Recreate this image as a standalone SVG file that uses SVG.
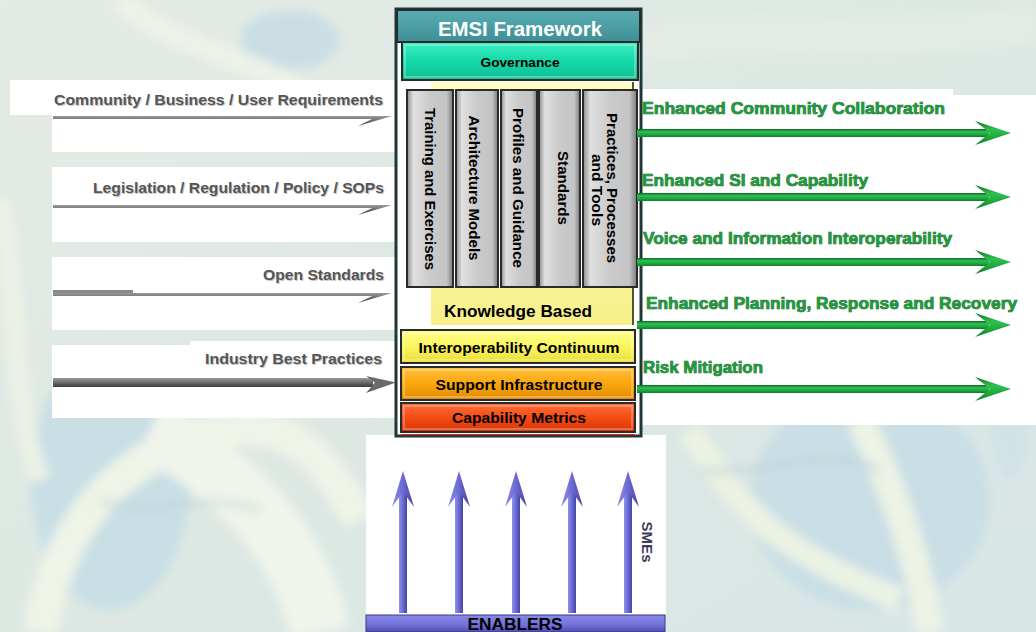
<svg xmlns="http://www.w3.org/2000/svg" width="1036" height="632" viewBox="0 0 1036 632">
  <defs>
    <filter id="soft" x="-20%" y="-20%" width="140%" height="140%">
      <feGaussianBlur stdDeviation="5"/>
    </filter>
    <linearGradient id="bgBase" x1="0" y1="0" x2="1" y2="1">
      <stop offset="0" stop-color="#e4ebe4"/>
      <stop offset="0.5" stop-color="#dde8e3"/>
      <stop offset="1" stop-color="#d8e6e6"/>
    </linearGradient>
    <linearGradient id="gHeader" x1="0" y1="0" x2="0" y2="1">
      <stop offset="0" stop-color="#5aaeb2"/>
      <stop offset="1" stop-color="#3d8f95"/>
    </linearGradient>
    <linearGradient id="gGov" x1="0" y1="0" x2="0" y2="1">
      <stop offset="0" stop-color="#3df0c4"/>
      <stop offset="0.5" stop-color="#14d8a8"/>
      <stop offset="1" stop-color="#0fbf94"/>
    </linearGradient>
    <linearGradient id="gCol" x1="0" y1="0" x2="1" y2="0">
      <stop offset="0" stop-color="#8c8c8c"/>
      <stop offset="0.14" stop-color="#e0e0e0"/>
      <stop offset="0.5" stop-color="#cacaca"/>
      <stop offset="0.86" stop-color="#c4c4c4"/>
      <stop offset="1" stop-color="#7a7a7a"/>
    </linearGradient>
    <linearGradient id="gKnow" x1="0" y1="0" x2="0" y2="1">
      <stop offset="0" stop-color="#fffdc6"/>
      <stop offset="1" stop-color="#f7f08a"/>
    </linearGradient>
    <linearGradient id="gInter" x1="0" y1="0" x2="0" y2="1">
      <stop offset="0" stop-color="#ffff90"/>
      <stop offset="0.5" stop-color="#fbf55c"/>
      <stop offset="1" stop-color="#e8dc3a"/>
    </linearGradient>
    <linearGradient id="gSupport" x1="0" y1="0" x2="0" y2="1">
      <stop offset="0" stop-color="#ffc040"/>
      <stop offset="0.5" stop-color="#fba60c"/>
      <stop offset="1" stop-color="#e08a00"/>
    </linearGradient>
    <linearGradient id="gMetric" x1="0" y1="0" x2="0" y2="1">
      <stop offset="0" stop-color="#ff7040"/>
      <stop offset="0.5" stop-color="#f44c12"/>
      <stop offset="1" stop-color="#d83406"/>
    </linearGradient>
    <linearGradient id="gEnablers" x1="0" y1="0" x2="0" y2="1">
      <stop offset="0" stop-color="#8a8ae8"/>
      <stop offset="0.6" stop-color="#7070d8"/>
      <stop offset="1" stop-color="#4e4eb0"/>
    </linearGradient>
    <linearGradient id="gGreen" x1="0" y1="0" x2="0" y2="1">
      <stop offset="0" stop-color="#0c6a28"/>
      <stop offset="0.35" stop-color="#2fc050"/>
      <stop offset="0.7" stop-color="#1ea63e"/>
      <stop offset="1" stop-color="#0f7a2c"/>
    </linearGradient>
    <linearGradient id="gGray" x1="0" y1="0" x2="0" y2="1">
      <stop offset="0" stop-color="#9a9a9a"/>
      <stop offset="0.5" stop-color="#6a6a6a"/>
      <stop offset="1" stop-color="#3c3c3c"/>
    </linearGradient>
    <linearGradient id="gBlue" x1="0" y1="0" x2="1" y2="0">
      <stop offset="0" stop-color="#9090ec"/>
      <stop offset="0.5" stop-color="#6a6ad0"/>
      <stop offset="1" stop-color="#4444a4"/>
    </linearGradient>
    <style>
      .bx { stroke: #2a2a2a; stroke-width: 2; }
      .hl { fill: none; stroke: #ffffff; stroke-opacity: 0.45; stroke-width: 1.2; }
      .lbl { font-family: "Liberation Sans", Arial, sans-serif; font-weight: bold; fill: #000; }
      .in { font-family: "Liberation Sans", Arial, sans-serif; font-weight: bold; font-size: 15px; fill: #555555; }
      .inShadow { font-family: "Liberation Sans", Arial, sans-serif; font-weight: bold; font-size: 15px; fill: #c8c8c8; }
      .out { font-family: "Liberation Sans", Arial, sans-serif; font-weight: bold; font-size: 17px; fill: #1f9a3c; stroke: #0b5a22; stroke-width: 0.7; paint-order: stroke; }
      .panel { fill: #ffffff; }
    </style>
  </defs>

  <!-- faded vine backdrop -->
  <g id="backdrop">
    <rect width="1036" height="632" fill="url(#bgBase)"/>
    <g filter="url(#soft)" opacity="0.8">
      <ellipse cx="110" cy="480" rx="80" ry="130" fill="#c4dde6"/>
      <ellipse cx="870" cy="500" rx="120" ry="110" fill="#c6dde6"/>
      <ellipse cx="290" cy="40" rx="50" ry="30" fill="#c6dce4"/>
      <ellipse cx="1010" cy="300" rx="30" ry="180" fill="#cfe2e6"/>
      <path d="M40,632 C60,520 120,450 230,430 C300,420 330,470 360,520" fill="none" stroke="#f3f7e8" stroke-width="34"/>
      <path d="M150,430 C230,470 300,540 320,632" fill="none" stroke="#f5f8ec" stroke-width="60"/>
      <path d="M690,430 C740,520 800,560 900,600" fill="none" stroke="#f0f5e4" stroke-width="24"/>
      <path d="M860,420 C900,500 920,570 930,632" fill="none" stroke="#f2f6e6" stroke-width="28"/>
      <path d="M640,45 C760,25 880,45 1036,25" fill="none" stroke="#e6ece6" stroke-width="36"/>
      <path d="M120,0 C160,40 250,60 300,90" fill="none" stroke="#eff4e8" stroke-width="22"/>
      <path d="M0,200 C20,300 10,400 40,480" fill="none" stroke="#eef3e6" stroke-width="20"/>
      <path d="M700,470 C760,480 820,440 880,470" fill="none" stroke="#b5cbcf" stroke-width="8" opacity="0.5"/>
      <path d="M100,500 C150,520 200,490 260,510" fill="none" stroke="#b5cbcf" stroke-width="7" opacity="0.5"/>
    </g>
  </g>

  <!-- white label panels -->
  <g id="panels">
    <path class="panel" d="M10,80 H400 V152 H52 V115 H10 Z"/>
    <rect class="panel" x="52" y="167" width="348" height="75"/>
    <rect class="panel" x="52" y="257" width="348" height="73"/>
    <path class="panel" d="M190,341 H400 V418 H52 V345 H190 Z"/>
    <path class="panel" d="M636,89 H953 V95 H1036 V425 H636 Z"/>
    <rect class="panel" x="366" y="435" width="300" height="180"/>
  </g>

  <!-- framework frame -->
  <g id="frame">
    <rect x="396" y="9" width="245" height="427" fill="#ffffff" stroke="#1d3838" stroke-width="3"/>
  </g>

  <g id="header">
    <rect class="bx" x="397" y="10" width="243" height="32" fill="url(#gHeader)"/>
    <text class="lbl" x="520" y="36" font-size="20" text-anchor="middle" textLength="164" lengthAdjust="spacingAndGlyphs" style="fill:#ffffff">EMSI Framework</text>
  </g>

  <g id="governance">
    <rect class="bx" x="402" y="42" width="236" height="38" fill="url(#gGov)"/>
    <rect class="hl" x="405" y="45" width="230" height="32"/>
    <text class="lbl" x="520" y="67" font-size="13" text-anchor="middle" textLength="79" lengthAdjust="spacingAndGlyphs">Governance</text>
  </g>

  <g id="knowledge-based">
    <rect x="431" y="82" width="202" height="243" fill="url(#gKnow)"/>
    <line x1="633" y1="82" x2="633" y2="325" stroke="#555533" stroke-width="2"/>
    <text class="lbl" x="518" y="317" font-size="16" text-anchor="middle" textLength="148" lengthAdjust="spacingAndGlyphs">Knowledge Based</text>
  </g>

  <!-- column backing -->
  <rect x="400" y="89" width="236" height="199" fill="#ffffff"/>

  <g id="col-training">
    <rect class="bx" x="407" y="90" width="46" height="197" fill="url(#gCol)"/>
    <text class="lbl" transform="translate(430,189) rotate(90)" x="0" y="5" font-size="14" text-anchor="middle" textLength="162" lengthAdjust="spacingAndGlyphs">Training and Exercises</text>
  </g>
  <g id="col-architecture">
    <rect class="bx" x="456" y="90" width="42" height="197" fill="url(#gCol)"/>
    <text class="lbl" transform="translate(474,188) rotate(90)" x="0" y="5" font-size="14" text-anchor="middle" textLength="145" lengthAdjust="spacingAndGlyphs">Architecture Models</text>
  </g>
  <g id="col-profiles">
    <rect class="bx" x="501" y="90" width="36" height="197" fill="url(#gCol)"/>
    <text class="lbl" transform="translate(517.5,188) rotate(90)" x="0" y="5" font-size="14" text-anchor="middle" textLength="160" lengthAdjust="spacingAndGlyphs">Profiles and Guidance</text>
  </g>
  <g id="col-standards">
    <rect class="bx" x="539" y="90" width="41" height="197" fill="url(#gCol)"/>
    <text class="lbl" transform="translate(562.5,188) rotate(90)" x="0" y="5" font-size="14" text-anchor="middle" textLength="74" lengthAdjust="spacingAndGlyphs">Standards</text>
  </g>
  <g id="col-practices">
    <rect class="bx" x="583" y="90" width="54" height="197" fill="url(#gCol)"/>
    <text class="lbl" transform="translate(605,190) rotate(90)" font-size="14" text-anchor="middle">
      <tspan x="0" y="-2" textLength="150" lengthAdjust="spacingAndGlyphs">Practices, Processes</tspan>
      <tspan x="0" y="13" textLength="72" lengthAdjust="spacingAndGlyphs">and Tools</tspan>
    </text>
  </g>

  <g id="interoperability">
    <rect class="bx" x="401" y="330" width="234" height="33" fill="url(#gInter)"/>
    <rect class="hl" x="404" y="333" width="228" height="27"/>
    <text class="lbl" x="519" y="353" font-size="15" text-anchor="middle" textLength="201" lengthAdjust="spacingAndGlyphs">Interoperability Continuum</text>
  </g>

  <g id="support">
    <rect class="bx" x="401" y="367" width="234" height="33" fill="url(#gSupport)"/>
    <rect class="hl" x="404" y="370" width="228" height="27"/>
    <text class="lbl" x="519" y="390" font-size="15" text-anchor="middle" textLength="167" lengthAdjust="spacingAndGlyphs">Support Infrastructure</text>
  </g>

  <g id="metrics">
    <rect class="bx" x="401" y="403" width="234" height="29" fill="url(#gMetric)"/>
    <rect class="hl" x="404" y="406" width="228" height="23"/>
    <line x1="401" y1="435" x2="635" y2="435" stroke="#a01808" stroke-width="1.5"/>
    <text class="lbl" x="519" y="423" font-size="15" text-anchor="middle" textLength="134" lengthAdjust="spacingAndGlyphs">Capability Metrics</text>
  </g>

  <!-- inputs on the left -->
  <g id="inputs">
    <text class="inShadow" x="384" y="106" text-anchor="end" textLength="329" lengthAdjust="spacingAndGlyphs">Community / Business / User Requirements</text>
    <text class="in" x="383" y="105" text-anchor="end" textLength="329" lengthAdjust="spacingAndGlyphs">Community / Business / User Requirements</text>
    <text class="inShadow" x="385" y="194" text-anchor="end" textLength="291" lengthAdjust="spacingAndGlyphs">Legislation / Regulation / Policy / SOPs</text>
    <text class="in" x="384" y="193" text-anchor="end" textLength="291" lengthAdjust="spacingAndGlyphs">Legislation / Regulation / Policy / SOPs</text>
    <text class="inShadow" x="385" y="281" text-anchor="end" textLength="121" lengthAdjust="spacingAndGlyphs">Open Standards</text>
    <text class="in" x="384" y="280" text-anchor="end" textLength="121" lengthAdjust="spacingAndGlyphs">Open Standards</text>
    <text class="inShadow" x="383" y="365" text-anchor="end" textLength="177" lengthAdjust="spacingAndGlyphs">Industry Best Practices</text>
    <text class="in" x="382" y="364" text-anchor="end" textLength="177" lengthAdjust="spacingAndGlyphs">Industry Best Practices</text>
  </g>

  <!-- outcomes on the right -->
  <g id="outcomes">
    <text class="out" x="642" y="114" textLength="303" lengthAdjust="spacingAndGlyphs">Enhanced Community Collaboration</text>
    <text class="out" x="642" y="186" textLength="226" lengthAdjust="spacingAndGlyphs">Enhanced SI and Capability</text>
    <text class="out" x="643" y="244" textLength="309" lengthAdjust="spacingAndGlyphs">Voice and Information  Interoperability</text>
    <text class="out" x="646" y="309" textLength="371" lengthAdjust="spacingAndGlyphs">Enhanced Planning, Response and Recovery</text>
    <text class="out" x="643" y="373" textLength="120" lengthAdjust="spacingAndGlyphs">Risk Mitigation</text>
  </g>

  <g id="enablers">
    <rect x="366" y="615" width="299" height="17" fill="url(#gEnablers)" stroke="#3a3a80" stroke-width="1"/>
    <text class="lbl" x="515" y="630" font-size="16" text-anchor="middle" textLength="95" lengthAdjust="spacingAndGlyphs">ENABLERS</text>
    <text class="lbl" transform="translate(647,542) rotate(90)" x="0" y="5" font-size="14" text-anchor="middle" textLength="41" lengthAdjust="spacingAndGlyphs" style="fill:#3c3c5c">SMEs</text>
  </g>

  <g id="connectors">
    <!-- input arrows -->
    <path d="M53,116 H392 L358,126 L372,119 H53 Z" fill="url(#gGray)"/>
    <path d="M53,205 H392 L358,215 L372,208 H53 Z" fill="url(#gGray)"/>
    <rect x="53" y="290" width="80" height="6" fill="#8a8a8a"/>
    <path d="M53,293 H392 L358,303 L372,296 H53 Z" fill="url(#gGray)"/>
    <rect x="53" y="378" width="320" height="9" fill="url(#gGray)"/>
    <path d="M366,376 L396,382.5 L366,393 L375,382.5 Z" fill="#6a6a6a"/>

    <!-- outcome arrows -->
    <g fill="url(#gGreen)">
      <rect x="637" y="129" width="352" height="8"/>
      <path d="M975,121 L1011,133 L975,145 L990,133 Z"/>
      <rect x="637" y="193" width="352" height="8"/>
      <path d="M975,185 L1011,197 L975,209 L990,197 Z"/>
      <rect x="637" y="258" width="352" height="8"/>
      <path d="M975,250 L1011,262 L975,274 L990,262 Z"/>
      <rect x="637" y="321" width="352" height="8"/>
      <path d="M975,313 L1011,325 L975,337 L990,325 Z"/>
      <rect x="637" y="385" width="352" height="8"/>
      <path d="M975,377 L1011,389 L975,401 L990,389 Z"/>
    </g>

    <!-- enabler arrows -->
    <g fill="url(#gBlue)">
      <rect x="399" y="492" width="8" height="121"/>
      <path d="M403,471 L414,507 L403,492 L392,507 Z"/>
      <rect x="455" y="492" width="8" height="121"/>
      <path d="M459,471 L470,507 L459,492 L448,507 Z"/>
      <rect x="512" y="492" width="8" height="121"/>
      <path d="M516,471 L527,507 L516,492 L505,507 Z"/>
      <rect x="568" y="492" width="8" height="121"/>
      <path d="M572,471 L583,507 L572,492 L561,507 Z"/>
      <rect x="624" y="492" width="8" height="121"/>
      <path d="M628,471 L639,507 L628,492 L617,507 Z"/>
    </g>
  </g>
</svg>
